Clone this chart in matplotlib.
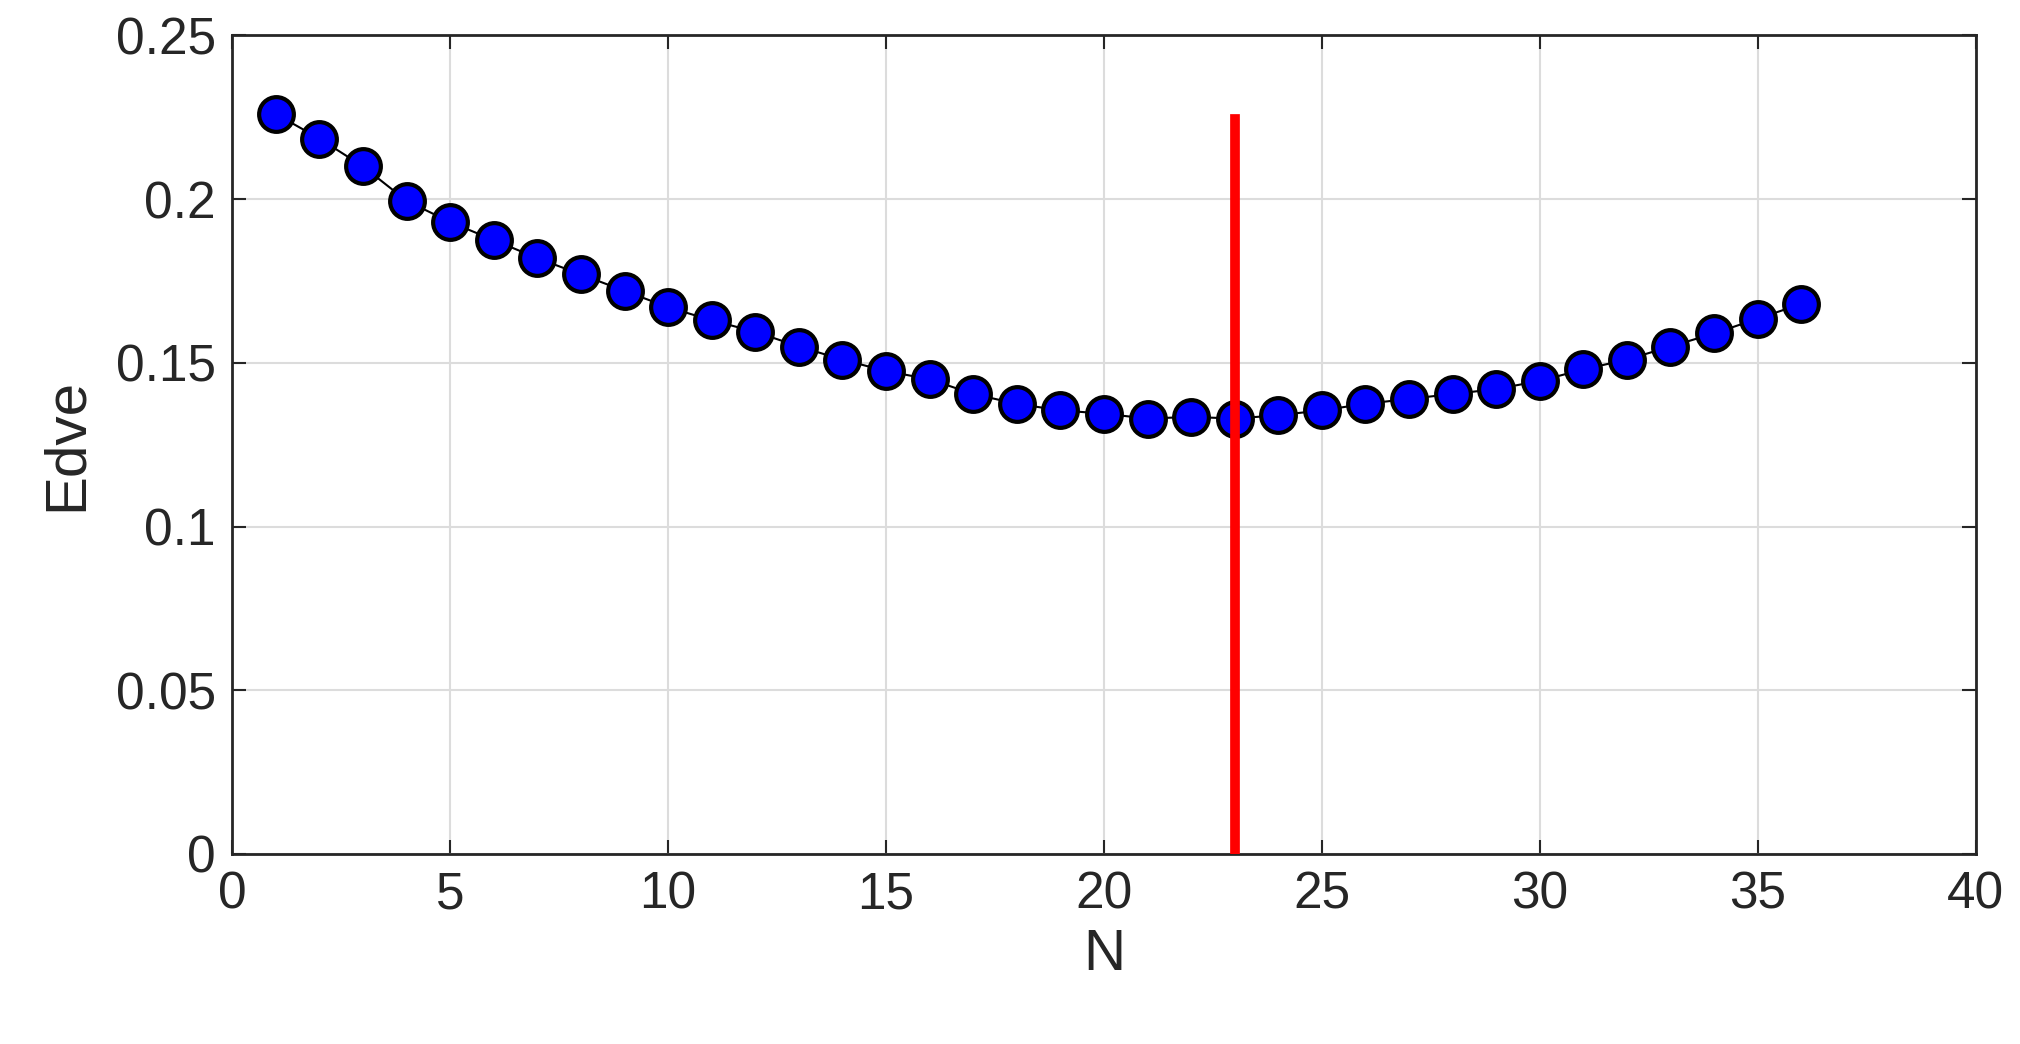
import matplotlib; matplotlib.use("Agg")
import matplotlib.pyplot as plt

N = list(range(1, 37))
edve = [0.226, 0.2185, 0.210, 0.1995, 0.193, 0.1875, 0.182, 0.177, 0.172, 0.167,
        0.163, 0.1595, 0.155, 0.151, 0.1475, 0.145, 0.1405, 0.1375, 0.1355, 0.1345,
        0.133, 0.1335, 0.133, 0.134, 0.1355, 0.1375, 0.139, 0.1405, 0.142, 0.1445,
        0.148, 0.151, 0.155, 0.159, 0.1635, 0.168]
best_n = 23
best_top = 0.2245

plt.rcParams["font.family"] = ["Liberation Sans", "DejaVu Sans"]
fig = plt.figure(figsize=(20.2, 10.44), dpi=100)
ax = fig.add_axes([0.115, 0.182, 0.863, 0.784])
ax.plot(N, edve, "-", color="black", lw=1.5, marker="o", ms=25,
        mfc="#0000ff", mec="black", mew=3, zorder=3)
ax.plot([best_n, best_n], [0, best_top], color="#ff0000", lw=7, zorder=4)
ax.set_xlim(0, 40); ax.set_ylim(0, 0.25)
ax.set_xticks(range(0, 41, 5))
ax.set_yticks([0, 0.05, 0.1, 0.15, 0.2, 0.25])
ax.set_yticklabels(["0", "0.05", "0.1", "0.15", "0.2", "0.25"])
ax.grid(True, color="#dcdcdc", lw=1.5)
ax.set_axisbelow(True)
ax.tick_params(labelsize=37, colors="#262626", direction="in", length=10, width=1.5,
               top=True, right=True, pad=12)
for s in ax.spines.values():
    s.set_linewidth(2); s.set_color("#262626")
ax.set_xlabel("N", fontsize=42, color="#262626", labelpad=6)
ax.set_ylabel("Edve", fontsize=42, color="#262626", labelpad=16)
fig.savefig("out.png", dpi=100)
